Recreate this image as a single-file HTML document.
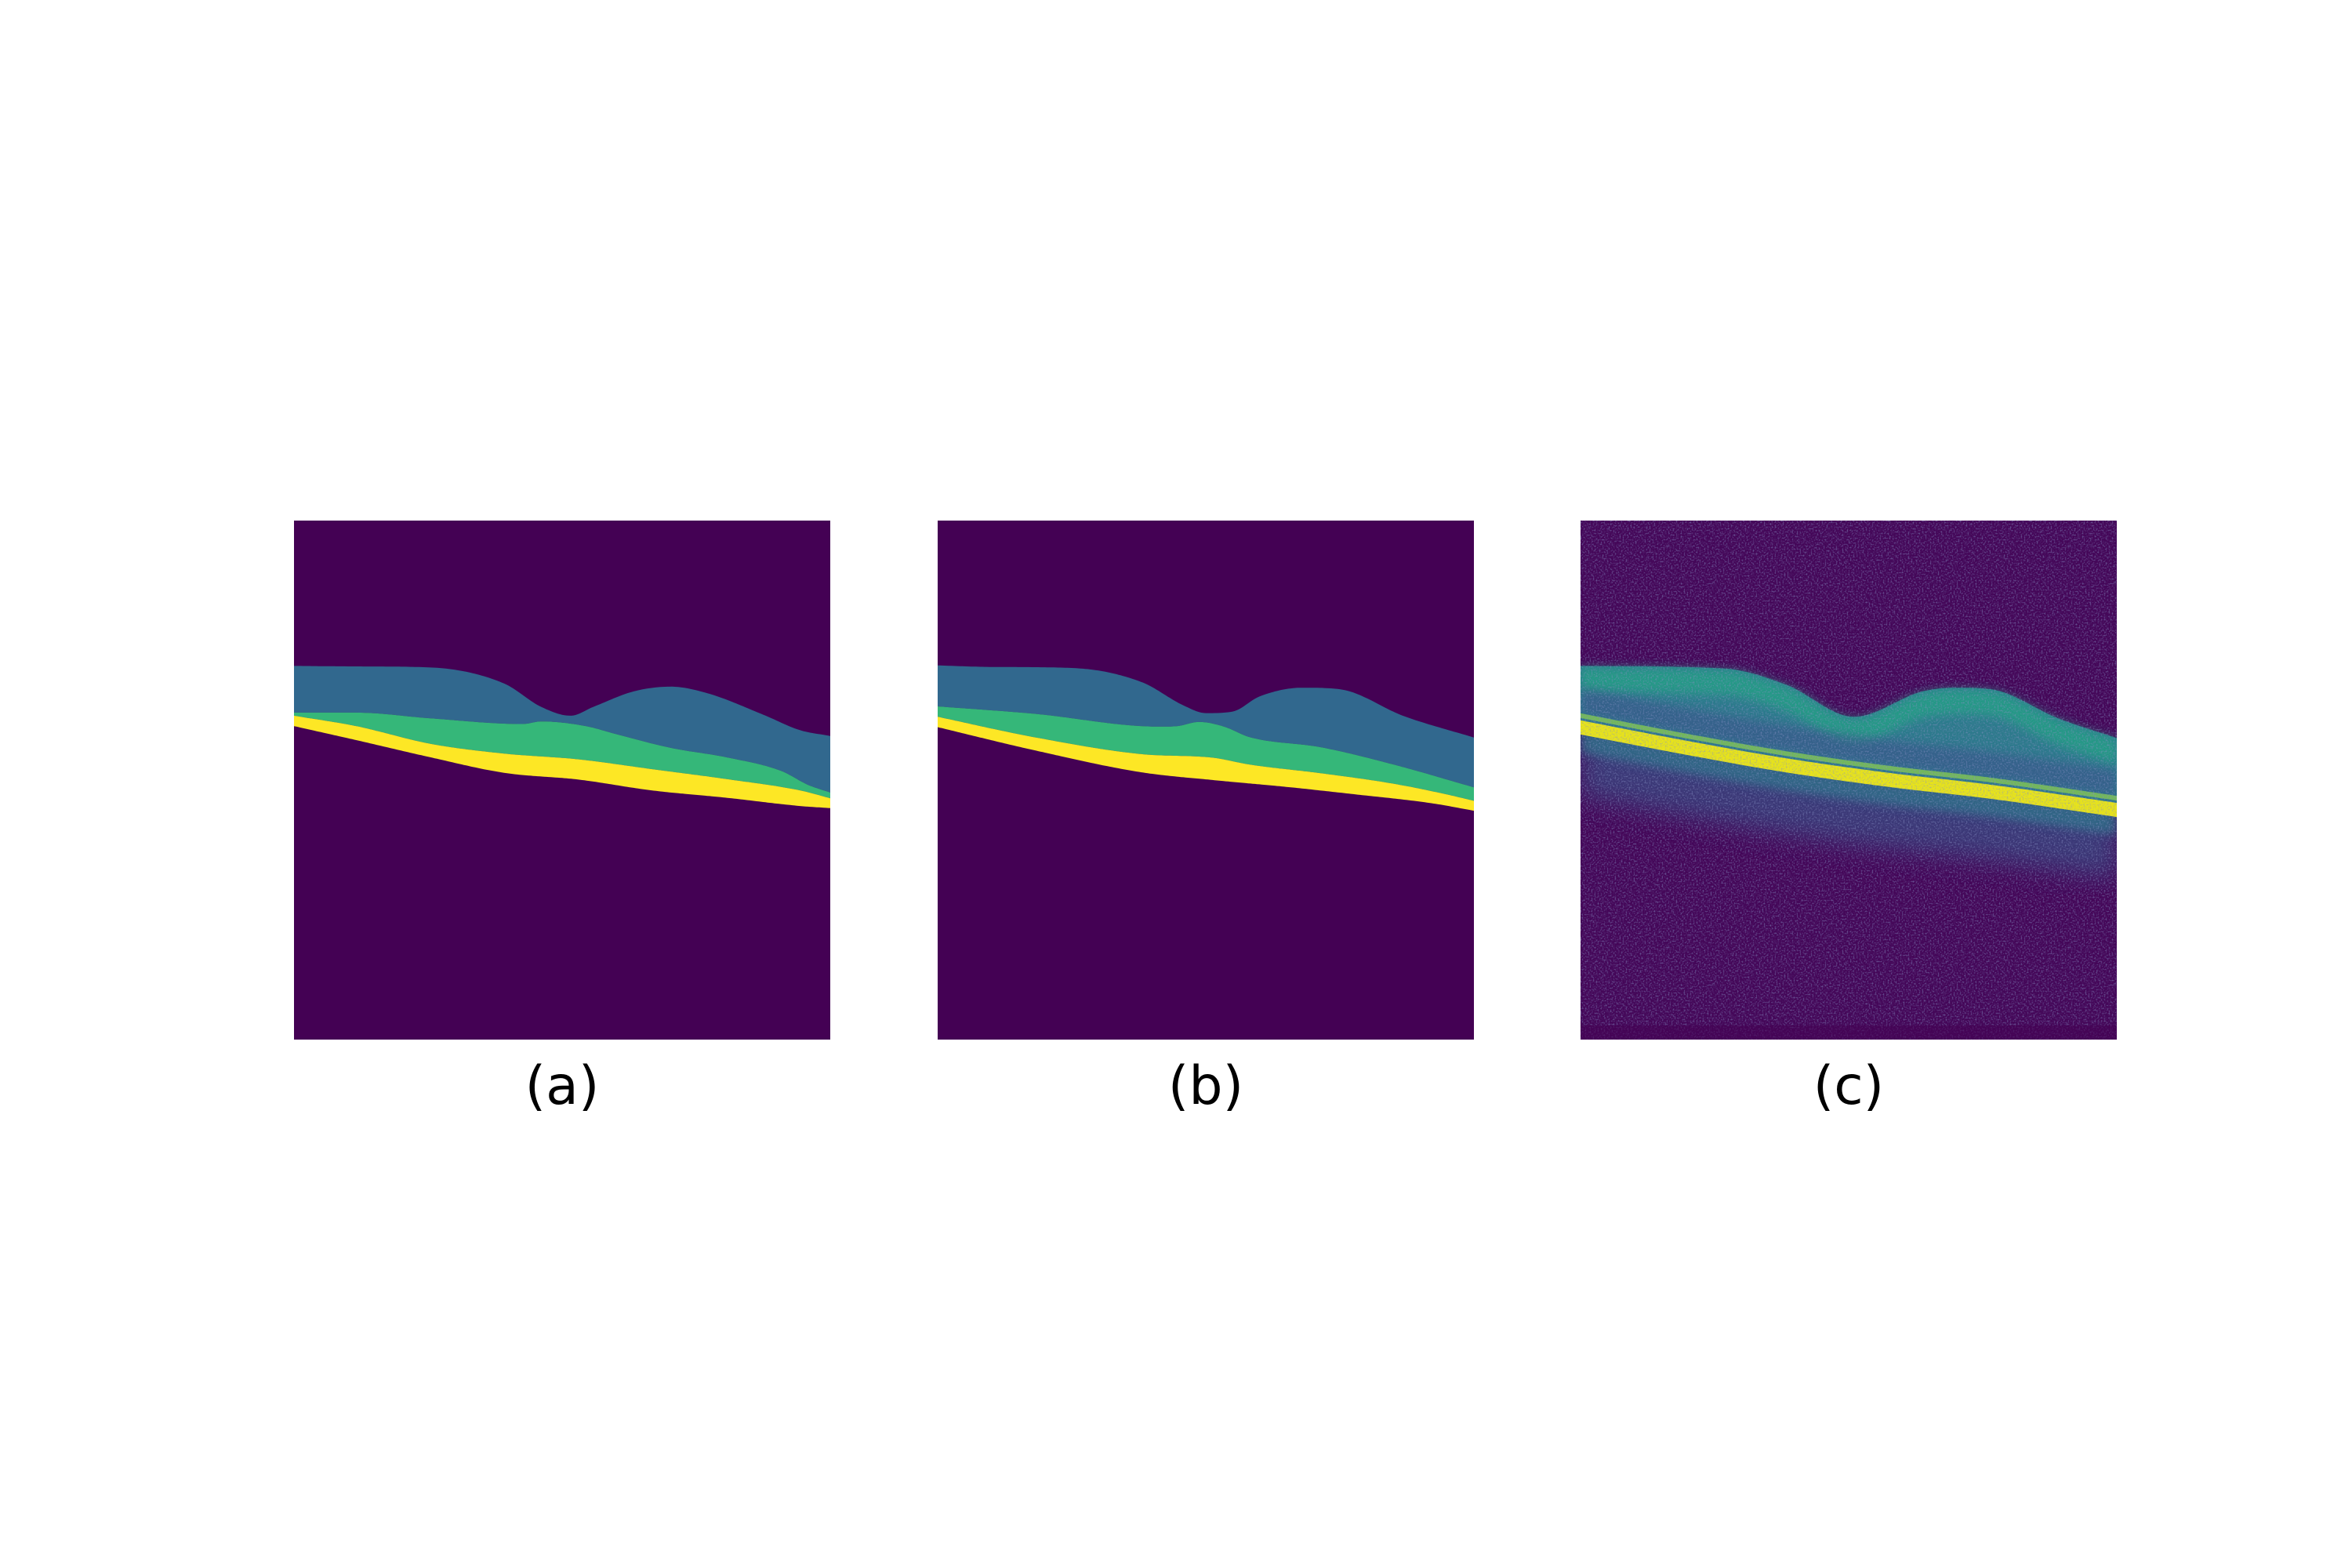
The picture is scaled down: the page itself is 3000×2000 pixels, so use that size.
<!DOCTYPE html>
<html><head><meta charset="utf-8">
<style>
html,body{margin:0;padding:0;background:#fff;}
body{width:3000px;height:2000px;position:relative;overflow:hidden;}
svg{position:absolute;left:0;top:0;}
text{font-family:"DejaVu Sans","Liberation Sans",sans-serif;}
</style></head>
<body>
<svg id="fig" width="3000" height="2000" viewBox="0 0 3000 2000">
<defs>
<filter id="speckle" x="0" y="0" width="100%" height="100%">
<feTurbulence type="fractalNoise" baseFrequency="0.5" numOctaves="2" seed="4" result="n"/>
<feColorMatrix in="n" type="matrix" values="0 0 0 0 0.24  0 0 0 0 0.28  0 0 0 0 0.55  3.2 0 0 0 -1.5"/>
</filter>
<filter id="blur6"><feGaussianBlur stdDeviation="6"/></filter>
<filter id="blur14"><feGaussianBlur stdDeviation="16"/></filter>
<clipPath id="clipC"><rect x="2016" y="664" width="684" height="662"/></clipPath>
</defs>
</svg>
<script>
const panelLabels = ["(a)", "(b)", "(c)"];
// Panel (a) ground-truth boundaries
const aIlmX = [0,.116,.254,.392,.461,.516,.558,.634,.703,.772,.875,.944,1];
const aIlmY = [.280,.281,.283,.314,.359,.376,.359,.329,.320,.333,.374,.404,.415];
const aBgX = [0,.116,.254,.426,.461,.544,.599,.703,.806,.910,.958,1];
const aBgY = [.370,.370,.381,.392,.387,.396,.411,.438,.456,.483,.509,.524];
const aGyX = [0,.116,.254,.392,.530,.668,.806,.944,1];
const aGyY = [.376,.396,.430,.449,.460,.479,.498,.520,.535];
const aYbX = [0,.116,.254,.392,.530,.668,.806,.944,1];
const aYbY = [.396,.423,.456,.486,.499,.520,.534,.550,.554];
// Panel (b) predicted boundaries
const bIlmX = [0,.1,.25,.38,.46,.5,.55,.6,.68,.75,.87,1];
const bIlmY = [.279,.282,.284,.311,.357,.371,.368,.339,.322,.325,.377,.418];
const bBgX = [0,.178,.413,.447,.487,.534,.581,.716,.85,1];
const bBgY = [.358,.372,.397,.396,.388,.397,.417,.437,.470,.514];
const bGyX = [0,.178,.38,.514,.581,.716,.85,.951,1];
const bGyY = [.378,.417,.450,.457,.470,.487,.507,.528,.540];
const bYbX = [0,.178,.38,.514,.649,.783,.917,1];
const bYbY = [.398,.442,.485,.500,.513,.528,.544,.559];
// Panel (c) OCT scan structure
const cIlmX = [0,.268,.383,.51,.638,.70,.765,.893,1];
const cIlmY = [.280,.285,.316,.378,.329,.322,.325,.382,.419];
const cBandX = [0,.191,.383,.574,.765,1];
const cBandY = [.394,.432,.467,.495,.518,.553];

const panels = [{x:375,y:664,w:684,h:662},{x:1196,y:664,w:684,h:662},{x:2016,y:664,w:684,h:662}];
const NS = "http://www.w3.org/2000/svg";
const svg = document.getElementById('fig');

// monotone cubic (Fritsch-Carlson) interpolation
function interp(xs, ys, t){
  const n=xs.length;
  if(t<=xs[0]) return ys[0];
  if(t>=xs[n-1]) return ys[n-1];
  const d=[],m=[];
  for(let i=0;i<n-1;i++) d.push((ys[i+1]-ys[i])/(xs[i+1]-xs[i]));
  m[0]=d[0]; m[n-1]=d[n-2];
  for(let i=1;i<n-1;i++){ m[i]=(d[i-1]*d[i]<=0)?0:(d[i-1]+d[i])/2; }
  for(let i=0;i<n-1;i++){ if(d[i]===0){m[i]=0;m[i+1]=0;continue;} const a=m[i]/d[i],b=m[i+1]/d[i],s=a*a+b*b; if(s>9){const tt=3/Math.sqrt(s);m[i]=tt*a*d[i];m[i+1]=tt*b*d[i];} }
  let i=0; while(t>xs[i+1]) i++;
  const h=xs[i+1]-xs[i], u=(t-xs[i])/h;
  const h00=2*u*u*u-3*u*u+1,h10=u*u*u-2*u*u+u,h01=-2*u*u*u+3*u*u,h11=u*u*u-u*u;
  return h00*ys[i]+h10*h*m[i]+h01*ys[i+1]+h11*h*m[i+1];
}
function px(p,t){return p.x+t*p.w;}
function py(p,v){return p.y+v*p.h;}
function curve(p,xs,ys,off,rev){
  const pts=[]; const N=240;
  for(let i=0;i<=N;i++){const t=i/N; pts.push([px(p,t), py(p,interp(xs,ys,t))+(off||0)]);}
  if(rev) pts.reverse();
  return pts.map(q=>q[0].toFixed(1)+","+q[1].toFixed(1));
}
function band(p,x1,y1,x2,y2,o1,o2){
  return "M"+curve(p,x1,y1,o1).join(" L")+" L"+curve(p,x2,y2,o2,true).join(" L")+" Z";
}
function mk(tag,attrs,parent){const e=document.createElementNS(NS,tag);for(const k in attrs)e.setAttribute(k,attrs[k]);(parent||svg).appendChild(e);return e;}

function segPanel(i,ilmX,ilmY,bgX,bgY,gyX,gyY,ybX,ybY){
  const p=panels[i];
  const g=mk('g',{});
  
  
  const bg=mk('rect',{x:p.x,y:p.y,width:p.w,height:p.h,fill:'#440154'},g);
  
  
  const l1=mk('path',{d:band(p,ilmX,ilmY,bgX,bgY),fill:'#31688e'},g);
  
  
  const l2=mk('path',{d:band(p,bgX,bgY,gyX,gyY),fill:'#35b779'},g);
  
  
  const l3=mk('path',{d:band(p,gyX,gyY,ybX,ybY),fill:'#fde725'},g);
  
  
}
segPanel(0,aIlmX,aIlmY,aBgX,aBgY,aGyX,aGyY,aYbX,aYbY);
segPanel(1,bIlmX,bIlmY,bBgX,bBgY,bGyX,bGyY,bYbX,bYbY);

(function(){
  const p=panels[2];
  const g=mk('g',{'clip-path':'url(#clipC)'});
  
  
  mk('rect',{x:p.x,y:p.y,width:p.w,height:p.h,fill:'#440658'},g);
  const ch=mk('path',{d:band(p,cBandX,cBandY,cBandX,cBandY,0,90),fill:'#355a8c',opacity:0.6,filter:'url(#blur14)'},g);
  
  
  mk('path',{d:band(p,cBandX,cBandY,cBandX,cBandY,0,35),fill:'#2a7f8e',opacity:0.65,filter:'url(#blur6)'},g);
  const r=mk('path',{d:band(p,cIlmX,cIlmY,cBandX,cBandY,0,0),fill:'#2d7a8c'},g);
  
  
  mk('path',{d:band(p,cIlmX,cIlmY,cIlmX,cIlmY,2,34),fill:'#22a384',opacity:0.75,filter:'url(#blur6)'},g);
  mk('path',{d:band(p,cBandX,cBandY,cBandX,cBandY,-48,-14),fill:'#3b4d8a',opacity:0.55,filter:'url(#blur6)'},g);
  mk('path',{d:band(p,cBandX,cBandY,cBandX,cBandY,-15,-9),fill:'#8fd744',opacity:0.7},g);
  const y=mk('path',{d:band(p,cBandX,cBandY,cBandX,cBandY,-6,12),fill:'#e8e419'},g);
  
  
  mk('rect',{x:p.x,y:p.y,width:p.w,height:p.h,filter:'url(#speckle)',opacity:0.5},g);
  mk('rect',{x:p.x,y:p.y+p.h-18,width:p.w,height:18,fill:'#440154',opacity:0.6},g);
})();

panels.forEach((p,i)=>{
  const t=mk('text',{x:p.x+p.w/2,y:1408,'font-size':68,'text-anchor':'middle',fill:'#000'});
  t.textContent=panelLabels[i];
  
  
});
</script>
</body></html>
